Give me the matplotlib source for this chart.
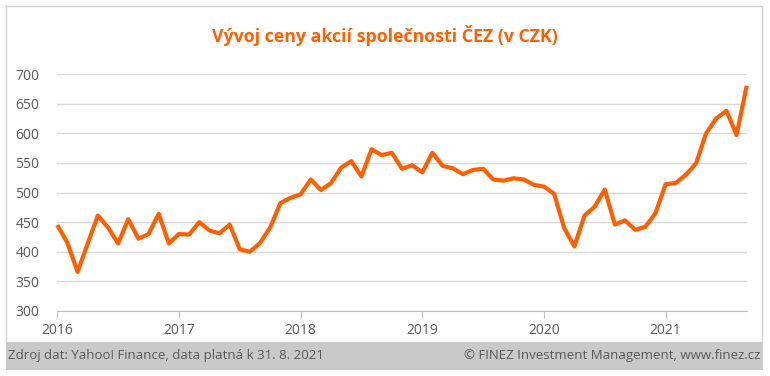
import matplotlib.pyplot as plt
from matplotlib.patches import Rectangle

# monthly close, Jan 2016 .. Sep 2021
prices = [
    445, 415, 366, 414, 461, 441, 414, 455, 422, 430, 464, 414,   # 2016
    430, 429, 450, 436, 431, 446, 404, 400, 415, 441, 482, 491,   # 2017
    497, 522, 504, 516, 542, 553, 527, 573, 563, 567, 540, 546,   # 2018
    534, 567, 545, 541, 531, 538, 540, 522, 520, 524, 522, 513,   # 2019
    510, 498, 440, 409, 461, 476, 505, 446, 453, 437, 442, 465,   # 2020
    514, 516, 530, 549, 600, 625, 638, 597, 680,                   # 2021
]
years = ['2016', '2017', '2018', '2019', '2020', '2021']
yticks = [300, 350, 400, 450, 500, 550, 600, 650, 700]

title = 'Vývoj ceny akcií společnosti ČEZ (v CZK)'
src_text = 'Zdroj dat: Yahoo! Finance, data platná k 31. 8. 2021'
copy_text = '© FINEZ Investment Management, www.finez.cz'

orange = '#ff5f00'
grey_txt = '#595959'

plt.rcParams['font.family'] = ['Open Sans', 'DejaVu Sans']

W, H = 770, 376
fig = plt.figure(figsize=(W / 100, H / 100), dpi=100)

# chart border and footer band
fig.patches.append(Rectangle((6 / W, 1 - 342 / H), 756 / W, 336 / H, transform=fig.transFigure,
                             fill=False, edgecolor='#d0d0d0', linewidth=1))
fig.patches.append(Rectangle((6 / W, 1 - 370 / H), 757 / W, 28 / H, transform=fig.transFigure,
                             facecolor='#c9c9c9', edgecolor='none'))

ax = fig.add_axes([57.3 / W, 1 - 311 / H, (746.7 - 57.3) / W, (311 - 74) / H])
x = list(range(len(prices)))
ax.plot(x, prices, color=orange, linewidth=3.0, solid_joinstyle='round',
        solid_capstyle='butt', zorder=3, clip_on=False)

ax.set_xlim(0, len(prices) - 1)
ax.set_ylim(300, 700)
ax.set_yticks(yticks)
ax.yaxis.grid(True, color='#d9d9d9', linewidth=1)
ax.set_xticks([12 * i for i in range(len(years))])
ax.set_xticklabels(years)
ax.tick_params(axis='x', length=5, color='#bfbfbf', pad=4, labelsize=10, labelcolor=grey_txt)
ax.tick_params(axis='y', length=0, pad=13, labelsize=10, labelcolor=grey_txt)
for s in ['top', 'right', 'left']:
    ax.spines[s].set_visible(False)
ax.spines['bottom'].set_color('#bfbfbf')

fig.text(385 / W, 1 - 35 / H, title, ha='center', va='center', color=orange,
         fontsize=12.8, fontweight='bold')
fig.text(8 / W, 1 - 356 / H, src_text, ha='left', va='center', color=grey_txt, fontsize=9.5)
fig.text(760 / W, 1 - 356 / H, copy_text, ha='right', va='center', color=grey_txt, fontsize=9.5)

fig.savefig('out.png', dpi=100)
